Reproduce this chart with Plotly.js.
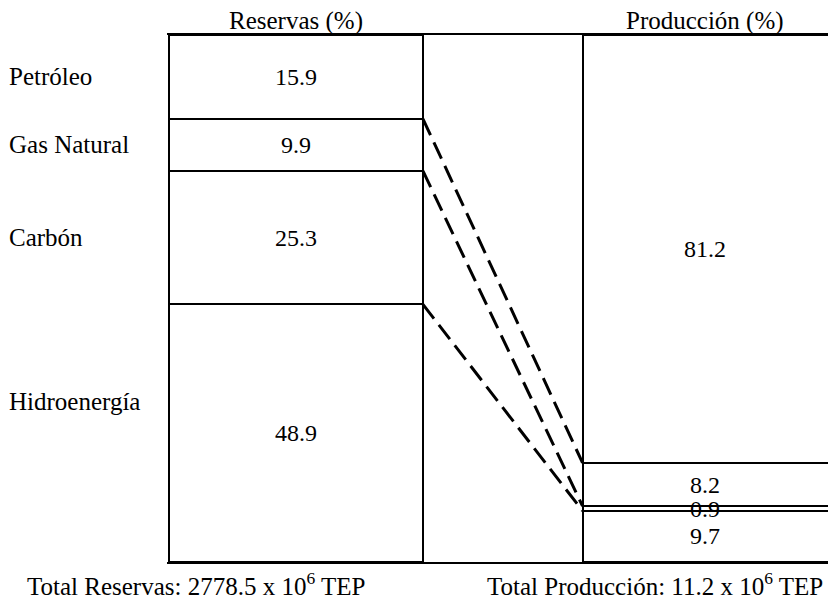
<!DOCTYPE html>
<html>
<head>
<meta charset="utf-8">
<script src="https://cdn.plot.ly/plotly-3.0.1.min.js"></script>
<style>html,body{margin:0;padding:0;background:#fff;}#chart{width:828px;height:599px;}</style>
</head>
<body>
<div id="chart"></div>
<script>
// ---- data ----
const categorias = ['Petróleo', 'Gas Natural', 'Carbón', 'Hidroenergía'];
const reservas = [15.9, 9.9, 25.3, 48.9];
const produccion = [81.2, 8.2, 0.9, 9.7];
const columnas = ['Reservas (%)', 'Producción (%)'];
const totales = ['Total Reservas: 2778.5 x 10<sup>6</sup> TEP', 'Total Producción: 11.2 x 10<sup>6</sup> TEP'];

// ---- layout constants ----
const FONT = '"Times New Roman", "Liberation Serif", Times, serif';
const plotL = 167, plotT = 35, plotB = 37, W = 828, H = 599;
const plotW = W - plotL;
const unitPx = 255;                       // bar width in px
const xMax = plotW / unitPx;
const xLeft = 0.5;                        // centre of Reservas bar
const xRightStart = (582 - plotL) / unitPx;
const xRight = xRightStart + 0.5;         // centre of Producción bar

function cum(arr) { const out = [0]; arr.forEach(v => out.push(out[out.length - 1] + v)); return out; }
const cumR = cum(reservas), cumP = cum(produccion);

const traces = categorias.map((c, i) => ({
  type: 'bar', name: c,
  x: [xLeft, xRight],
  y: [reservas[i], produccion[i]],
  width: [1, 1],
  marker: { color: 'white', line: { color: 'black', width: 2 } },
  hoverinfo: 'none', showlegend: false
}));

const annotations = [];
const shapes = [];
const f = (s) => ({ family: FONT, size: s, color: 'black' });
categorias.forEach((c, i) => {
  annotations.push({ x: xLeft, y: (cumR[i] + cumR[i + 1]) / 2, xref: 'x', yref: 'y', text: reservas[i].toFixed(1),
    showarrow: false, font: f(24) });
  annotations.push({ x: (xRightStart + xMax) / 2, y: (cumP[i] + cumP[i + 1]) / 2, xref: 'x', yref: 'y', text: produccion[i].toFixed(1),
    showarrow: false, font: f(24) });
  annotations.push({ x: (7 - plotL) / plotW, xref: 'paper', xanchor: 'left', y: (cumR[i] + cumR[i + 1]) / 2, yref: 'y',
    yshift: i === categorias.length - 1 ? 32 : 0,
    text: c, showarrow: false, font: f(25) });
});
annotations.push({ x: xLeft, xref: 'x', y: 1, yref: 'paper', yanchor: 'bottom', yshift: -2, text: columnas[0],
  showarrow: false, font: f(25) });
annotations.push({ x: (xRightStart + xMax) / 2, xref: 'x', y: 1, yref: 'paper', yanchor: 'bottom', yshift: -2, text: columnas[1],
  showarrow: false, font: f(25) });
annotations.push({ x: (25 - plotL) / plotW, xref: 'paper', xanchor: 'left', y: 0, yref: 'paper', yanchor: 'top', yshift: -4,
  text: totales[0], showarrow: false, font: f(25) });
annotations.push({ x: 1, xref: 'paper', xanchor: 'right', xshift: -3, y: 0, yref: 'paper', yanchor: 'top', yshift: -4,
  text: totales[1], showarrow: false, font: f(25) });

for (let i = 1; i < categorias.length; i++) {
  shapes.push({ type: 'line', xref: 'x', yref: 'y', x0: xLeft + 0.5, y0: cumR[i], x1: xRightStart, y1: cumP[i],
    line: { color: 'black', width: 3, dash: '18px,8px' } });
}

const layout = {
  width: W, height: H,
  font: { family: FONT, color: 'black' },
  margin: { l: plotL, r: 0, t: plotT, b: plotB, pad: 0 },
  paper_bgcolor: 'white', plot_bgcolor: 'white',
  barmode: 'stack', bargap: 0,
  xaxis: { range: [-0.006, xMax], showgrid: false, zeroline: false, showticklabels: false, ticks: '',
    showline: true, mirror: true, linecolor: 'black', linewidth: 2, fixedrange: true },
  yaxis: { range: [100, 0], showgrid: false, zeroline: false, showticklabels: false, ticks: '',
    showline: false, fixedrange: true },
  annotations: annotations,
  shapes: shapes,
  hovermode: false,
  showlegend: false
};

Plotly.newPlot('chart', traces, layout, { displayModeBar: false, staticPlot: true });
</script>
</body>
</html>
